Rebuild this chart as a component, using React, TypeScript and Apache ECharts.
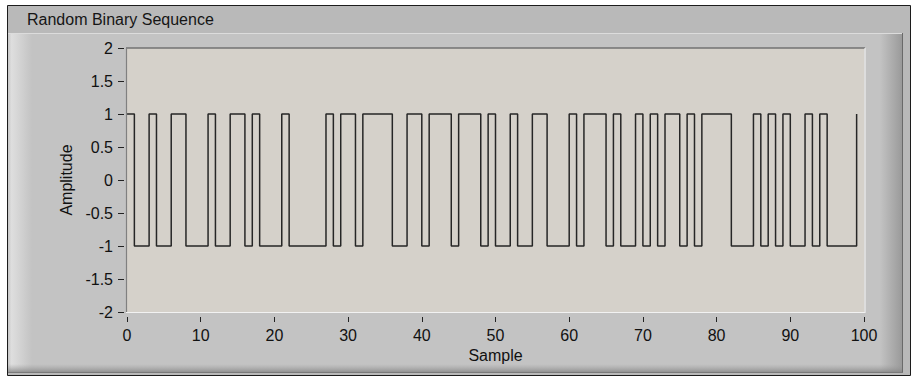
import React, { useEffect, useRef } from "react";
import * as echarts from "echarts";

const chartTitle = "Random Binary Sequence";
const xAxisName = "Sample";
const yAxisName = "Amplitude";

// amplitude of samples 0..99 (held until next sample)
const amplitude = [
  1, -1, -1, 1, -1, -1, 1, 1, -1, -1,
  -1, 1, -1, -1, 1, 1, -1, 1, -1, -1,
  -1, 1, -1, -1, -1, -1, -1, 1, -1, 1,
  1, -1, 1, 1, 1, 1, -1, -1, 1, 1,
  -1, 1, 1, 1, -1, 1, 1, 1, -1, 1,
  -1, -1, 1, -1, -1, 1, 1, -1, -1, -1,
  1, -1, 1, 1, 1, -1, 1, -1, -1, 1,
  -1, 1, -1, 1, 1, -1, 1, -1, 1, 1,
  1, 1, -1, -1, -1, 1, -1, 1, -1, 1,
  -1, -1, 1, -1, 1, -1, -1, -1, -1, 1,
];

const xMin = 0;
const xMax = 100;
const xInterval = 10;
const yMin = -2;
const yMax = 2;
const yInterval = 0.5;

const FONT = "'Liberation Sans', Arial, sans-serif";

export default function App() {
  const ref = useRef<HTMLDivElement>(null);

  useEffect(() => {
    document.body.style.margin = "0";
    if (!ref.current) return;
    const chart = echarts.init(ref.current, undefined, { renderer: "svg" });
    const data = amplitude.map((v, i) => [i, v]);

    const option: any = {
      animation: false,
      backgroundColor: "#ffffff",
      graphic: [
        {
          type: "rect",
          z: -10,
          silent: true,
          shape: { x: 7.5, y: 5.5, width: 903, height: 370 },
          style: { fill: "#b9b9b9", stroke: "#1c1c1c", lineWidth: 1 },
        },
        {
          type: "rect",
          z: -9,
          silent: true,
          shape: { x: 8, y: 33, width: 894, height: 340 },
          style: { fill: "#c3c3c3" },
        },
        {
          type: "rect",
          z: -8,
          silent: true,
          shape: { x: 8, y: 33, width: 24, height: 340 },
          style: {
            fill: new echarts.graphic.LinearGradient(0, 0, 1, 0, [
              { offset: 0, color: "#c9c9c9" },
              { offset: 0.15, color: "#dedede" },
              { offset: 1, color: "#c3c3c3" },
            ]),
          },
        },
        {
          type: "rect",
          z: -8,
          silent: true,
          shape: { x: 880, y: 33, width: 22, height: 340 },
          style: {
            fill: new echarts.graphic.LinearGradient(0, 0, 1, 0, [
              { offset: 0, color: "#c3c3c3" },
              { offset: 1, color: "#9a9a9a" },
            ]),
          },
        },
        {
          type: "rect",
          z: -7,
          silent: true,
          shape: { x: 8, y: 364, width: 894, height: 9 },
          style: {
            fill: new echarts.graphic.LinearGradient(0, 0, 0, 1, [
              { offset: 0, color: "rgba(160,160,160,0)" },
              { offset: 1, color: "rgba(130,130,130,0.9)" },
            ]),
          },
        },
        {
          type: "line",
          z: -6,
          silent: true,
          shape: { x1: 8, y1: 33.5, x2: 902, y2: 33.5 },
          style: { stroke: "#dcdcdc", lineWidth: 1 },
        },
        {
          type: "line",
          z: -6,
          silent: true,
          shape: { x1: 902.5, y1: 33, x2: 902.5, y2: 373 },
          style: { stroke: "#6a6a6a", lineWidth: 1 },
        },
        {
          type: "line",
          z: -6,
          silent: true,
          shape: { x1: 8, y1: 372.5, x2: 903, y2: 372.5 },
          style: { stroke: "#7a7a7a", lineWidth: 1 },
        },
        {
          type: "text",
          z: 5,
          silent: true,
          x: 27,
          y: 19,
          style: {
            text: chartTitle,
            fill: "#151515",
            font: `16px ${FONT}`,
            textVerticalAlign: "middle",
            verticalAlign: "middle",
          },
        },
        {
          type: "line",
          z: 10,
          silent: true,
          shape: { x1: 126, y1: 48, x2: 865, y2: 48 },
          style: { stroke: "#727272", lineWidth: 1.5 },
        },
        {
          type: "line",
          z: 10,
          silent: true,
          shape: { x1: 126.5, y1: 48, x2: 126.5, y2: 312 },
          style: { stroke: "#808080", lineWidth: 1.2 },
        },
        {
          type: "line",
          z: 10,
          silent: true,
          shape: { x1: 126, y1: 312.5, x2: 865, y2: 312.5 },
          style: { stroke: "#f2f2f2", lineWidth: 1.2 },
        },
        {
          type: "line",
          z: 10,
          silent: true,
          shape: { x1: 865, y1: 48, x2: 865, y2: 313 },
          style: { stroke: "#efefef", lineWidth: 1.2 },
        },
      ],
      grid: {
        left: 127,
        top: 48,
        width: 737,
        height: 264,
        show: true,
        backgroundColor: "#d5d1ca",
        borderWidth: 0,
      },
      xAxis: {
        type: "value",
        min: xMin,
        max: xMax,
        interval: xInterval,
        offset: 5,
        axisLine: { show: false, onZero: false },
        axisTick: { show: true, length: 5, lineStyle: { color: "#222", width: 1 } },
        axisLabel: { margin: 10, color: "#111", fontFamily: FONT, fontSize: 16 },
        splitLine: { show: false },
        name: xAxisName,
        nameLocation: "middle",
        nameGap: 29,
        nameTextStyle: { color: "#111", fontFamily: FONT, fontSize: 16 },
      },
      yAxis: {
        type: "value",
        min: yMin,
        max: yMax,
        interval: yInterval,
        offset: 3,
        axisLine: { show: false, onZero: false },
        axisTick: { show: true, length: 6, lineStyle: { color: "#222", width: 1 } },
        axisLabel: { margin: 11, color: "#111", fontFamily: FONT, fontSize: 16 },
        splitLine: { show: false },
        name: yAxisName,
        nameLocation: "middle",
        nameGap: 48,
        nameRotate: 90,
        nameTextStyle: { color: "#111", fontFamily: FONT, fontSize: 16 },
      },
      series: [
        {
          type: "line",
          step: "end",
          data,
          symbol: "none",
          silent: true,
          lineStyle: { color: "#262626", width: 1.5 },
        },
      ],
    };

    chart.setOption(option);
    return () => chart.dispose();
  }, []);

  return (
    <div
      ref={ref}
      style={{ position: "fixed", left: 0, top: 0, width: 914, height: 378 }}
    />
  );
}
